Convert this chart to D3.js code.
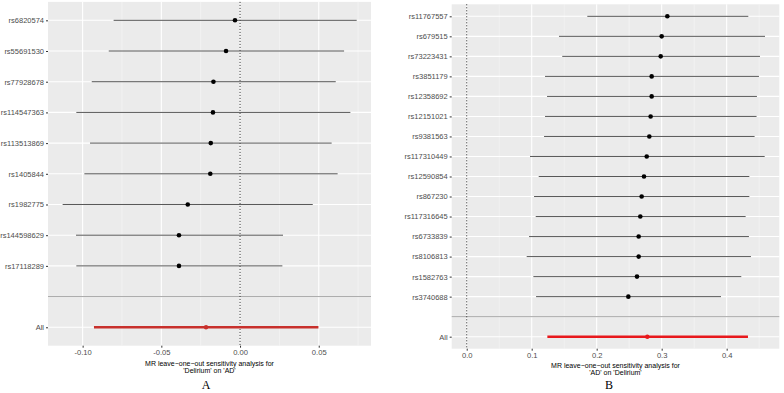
<!DOCTYPE html>
<html><head><meta charset="utf-8">
<script src="https://cdn.jsdelivr.net/npm/d3@7/dist/d3.min.js"></script>
<style>body{margin:0;background:#fff}svg{display:block}</style>
</head><body>
<svg id="c" width="784" height="393"></svg>
<script>
// Panel A: 'Delirium' on 'AD'
const snpsA = ["rs6820574","rs55691530","rs77928678","rs114547363","rs113513869","rs1405844","rs1982775","rs144598629","rs17118289"];
const betaA = [-0.0032,-0.0089,-0.0169,-0.0172,-0.0186,-0.0189,-0.0332,-0.0388,-0.0388];
const loA   = [-0.0803,-0.0834,-0.0942,-0.1040,-0.0953,-0.0989,-0.1127,-0.1042,-0.1040];
const hiA   = [0.0741,0.0661,0.0608,0.0701,0.0582,0.0620,0.0462,0.0273,0.0269];
const allA  = {beta:-0.0216, lo:-0.0928, hi:0.0498};
const ticksA = [-0.10,-0.05,0.00,0.05];
const tickLabelsA = ["-0.10","-0.05","0.00","0.05"];
const minorA = [-0.075,-0.025,0.025,0.075];
const titleA = ["MR leave\u2212one\u2212out sensitivity analysis for","'Delirium' on 'AD'"];

// Panel B: 'AD' on 'Delirium'
const snpsB = ["rs11767557","rs679515","rs73223431","rs3851179","rs12358692","rs12151021","rs9381563","rs117310449","rs12590854","rs867230","rs117316645","rs6733839","rs8106813","rs1582763","rs3740688"];
const betaB = [0.3087,0.3000,0.2985,0.2846,0.2846,0.2830,0.2810,0.2770,0.2728,0.2692,0.2671,0.2646,0.2646,0.2620,0.2487];
const loB   = [0.1856,0.1420,0.1470,0.1205,0.1236,0.1205,0.1190,0.0974,0.1108,0.1036,0.1062,0.0959,0.0923,0.1026,0.1067];
const hiB   = [0.4333,0.4590,0.4513,0.4497,0.4466,0.4460,0.4430,0.4585,0.4349,0.4349,0.4292,0.4343,0.4374,0.4225,0.3913];
const allB  = {beta:0.2779, lo:0.1241, hi:0.4328};
const ticksB = [0.0,0.1,0.2,0.3,0.4];
const tickLabelsB = ["0.0","0.1","0.2","0.3","0.4"];
const minorB = [0.05,0.15,0.25,0.35,0.45];
const titleB = ["MR leave\u2212one\u2212out sensitivity analysis for","'AD' on 'Delirium'"];

const svg = d3.select("#c");
const FONT = "'Liberation Sans', Arial, sans-serif";

function panel(o){
  const g = svg.append("g");
  const cats = o.snps.concat([" ", "All"]);
  const x = d3.scaleLinear().domain(o.xdom).range([o.left, o.right]);
  const y = d3.scalePoint().domain(cats).range([o.top, o.bottom]).padding(0.6);
  g.append("rect").attr("x",o.left).attr("y",o.top).attr("width",o.right-o.left).attr("height",o.bottom-o.top).attr("fill","#EBEBEB");
  g.selectAll(".mn").data(o.minor.filter(v=>x(v)>o.left&&x(v)<o.right)).enter().append("line")
    .attr("x1",d=>x(d)).attr("x2",d=>x(d)).attr("y1",o.top).attr("y2",o.bottom)
    .attr("stroke","#F7F7F7").attr("stroke-width",0.6);
  g.selectAll(".mj").data(o.ticks).enter().append("line")
    .attr("x1",d=>x(d)).attr("x2",d=>x(d)).attr("y1",o.top).attr("y2",o.bottom)
    .attr("stroke","#fff").attr("stroke-width",1.1);
  g.selectAll(".hy").data(cats).enter().append("line")
    .attr("x1",o.left).attr("x2",o.right).attr("y1",d=>y(d)).attr("y2",d=>y(d))
    .attr("stroke","#fff").attr("stroke-width",1.1);
  g.append("line").attr("x1",o.left).attr("x2",o.right).attr("y1",y(" ")).attr("y2",y(" "))
    .attr("stroke","#A6A6A6").attr("stroke-width",1);
  g.append("line").attr("x1",x(0)).attr("x2",x(0)).attr("y1",o.top).attr("y2",o.bottom)
    .attr("stroke","#222").attr("stroke-width",1).attr("stroke-dasharray","1,2");
  o.snps.forEach((s,i)=>{
    g.append("line").attr("x1",x(o.lo[i])).attr("x2",x(o.hi[i])).attr("y1",y(s)).attr("y2",y(s))
      .attr("stroke","#444").attr("stroke-width",0.9);
    g.append("circle").attr("cx",x(o.beta[i])).attr("cy",y(s)).attr("r",2.3).attr("fill","#000");
  });
  g.append("line").attr("x1",x(o.all.lo)).attr("x2",x(o.all.hi)).attr("y1",y("All")).attr("y2",y("All"))
    .attr("stroke",o.red).attr("stroke-width",2.4);
  g.append("circle").attr("cx",x(o.all.beta)).attr("cy",y("All")).attr("r",2.2).attr("fill",o.red);
  const ax = g.append("g").attr("transform",`translate(0,${o.bottom})`)
    .call(d3.axisBottom(x).tickValues(o.ticks).tickFormat((d,i)=>o.tickLabels[i]).tickSize(2).tickPadding(2));
  ax.select(".domain").remove();
  ax.selectAll("line").attr("stroke","#333");
  ax.selectAll("text").attr("fill","#4D4D4D").style("font-family",FONT).style("font-size","7.6px");
  const ay = g.append("g").attr("transform",`translate(${o.left},0)`)
    .call(d3.axisLeft(y).tickSize(2).tickPadding(2));
  ay.select(".domain").remove();
  ay.selectAll(".tick").filter(d=>d===" ").remove();
  ay.selectAll("line").attr("stroke","#333");
  ay.selectAll("text").attr("fill","#4D4D4D").style("font-family",FONT).style("font-size","7.5px");
  const cx = (o.left+o.right)/2;
  o.title.forEach((t,i)=>{
    g.append("text").attr("x",cx).attr("y",o.titleY+i*7.2).attr("text-anchor","middle")
      .style("font-family",FONT).style("font-size","7px").attr("fill","#000").text(t);
  });
  g.append("text").attr("x",o.letterX).attr("y",388.5).attr("text-anchor","middle")
    .style("font-family","'Liberation Serif','Times New Roman',serif").style("font-size","12px").attr("fill","#000").text(o.letter);
}

panel({snps:snpsA,beta:betaA,lo:loA,hi:hiA,all:allA,ticks:ticksA,tickLabels:tickLabelsA,minor:minorA,title:titleA,
  xdom:[-0.122,0.0832],left:48,right:371,top:1.9,bottom:345.7,red:"#C8302C",titleY:366,letter:"A",letterX:206});
panel({snps:snpsB,beta:betaB,lo:loB,hi:hiB,all:allB,ticks:ticksB,tickLabels:tickLabelsB,minor:minorB,title:titleB,
  xdom:[-0.0231,0.481],left:451.7,right:779.3,top:4.3,bottom:348.7,red:"#E8181C",titleY:368,letter:"B",letterX:609});
</script>
</body></html>
